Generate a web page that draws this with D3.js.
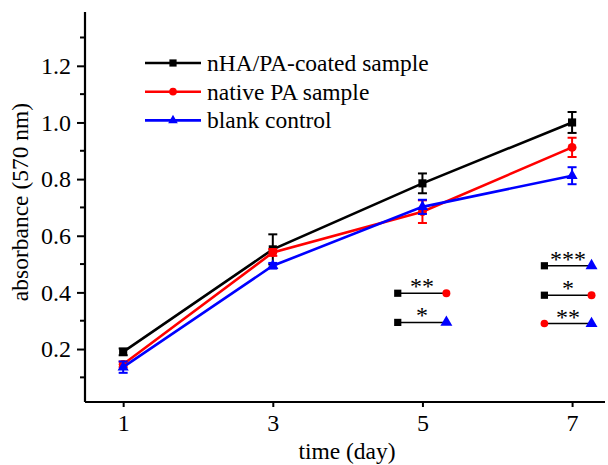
<!DOCTYPE html>
<html>
<head>
<meta charset="utf-8">
<script src="https://cdn.jsdelivr.net/npm/d3@7"></script>
<style>
  body { margin: 0; background: #fff; }
</style>
</head>
<body>
<div id="chart"></div>
<script>
// DATA
const days = [1, 3, 5, 7];
const coated = [0.19, 0.552, 0.785, 1.0];
const coatedErr = [0.012, 0.053, 0.035, 0.037];
const native = [0.146, 0.541, 0.685, 0.912];
const nativeErr = [0.01, 0.012, 0.04, 0.034];
const blank = [0.136, 0.494, 0.702, 0.812];
const blankErr = [0.02, 0.01, 0.025, 0.03];
const seriesNames = ["nHA/PA-coated sample", "native PA sample", "blank control"];
const xTicks = [1, 3, 5, 7];
const yTicks = [0.2, 0.4, 0.6, 0.8, 1.0, 1.2];
const yMinor = [0.1, 0.3, 0.5, 0.7, 0.9, 1.1, 1.3];

// significance brackets (pairs of groups, in data units)
const sigPairs = [
  { x1: 4.67, x2: 5.32, y: 0.397, a: 0, b: 1, stars: "**" },
  { x1: 4.67, x2: 5.32, y: 0.294, a: 0, b: 2, stars: "*" },
  { x1: 6.63, x2: 7.26, y: 0.494, a: 0, b: 2, stars: "***" },
  { x1: 6.63, x2: 7.26, y: 0.39, a: 0, b: 1, stars: "*" },
  { x1: 6.63, x2: 7.26, y: 0.29, a: 1, b: 2, stars: "**" }
];

const width = 608, height = 465;
const FONT = "'Liberation Serif', 'Times New Roman', serif";
const colors = ["#000000", "#ff0000", "#0000ff"];
const shapes = [d3.symbolSquare, d3.symbolCircle, d3.symbolTriangle];
const sizes = [66, 62, 54];      // data markers
const smallSizes = [52, 46, 40]; // legend / significance markers
const sigRightSizes = [52, 50, 62];

const series = [coated, native, blank].map((vals, i) => ({
  name: seriesNames[i],
  color: colors[i],
  shape: shapes[i],
  size: sizes[i],
  points: days.map((d, j) => ({ day: d, v: vals[j], e: [coatedErr, nativeErr, blankErr][i][j] }))
}));

const svg = d3.select("#chart").append("svg")
  .attr("width", width)
  .attr("height", height);

// SCALES
const xScale = d3.scaleLinear().domain([0.49, 7.44]).range([85, 605]);
const yScale = d3.scaleLinear().domain([0.013, 1.39]).range([402, 12]);

// AXES
const xAxis = svg.append("g")
  .attr("transform", `translate(0,${yScale.range()[0]})`)
  .call(d3.axisBottom(xScale).tickValues(xTicks).tickFormat(d3.format("d")).tickSize(5).tickPadding(7));
xAxis.select(".domain").attr("stroke-width", 2.2).attr("d", `M${xScale.range()[0]},0H${xScale.range()[1]}`);
xAxis.selectAll(".tick line").attr("stroke-width", 2);
xAxis.selectAll(".tick text").style("font-size", "24px").style("font-family", FONT);

const yAxis = svg.append("g")
  .attr("transform", `translate(${xScale.range()[0]},0)`)
  .call(d3.axisLeft(yScale).tickValues(yTicks).tickFormat(d3.format(".1f")).tickSize(8).tickPadding(6));
yAxis.select(".domain").attr("stroke-width", 2.2).attr("d", `M0,${yScale.range()[0]}V${yScale.range()[1]}`);
yAxis.selectAll(".tick line").attr("stroke-width", 2);
yAxis.selectAll(".tick text").style("font-size", "24px").style("font-family", FONT);

yAxis.selectAll(".minor")
  .data(yMinor)
  .join("line")
  .attr("class", "minor")
  .attr("x1", -5).attr("x2", 0)
  .attr("y1", d => yScale(d)).attr("y2", d => yScale(d))
  .attr("stroke", "#000").attr("stroke-width", 2);

// axis titles
svg.append("text")
  .attr("x", 347).attr("y", 459)
  .attr("text-anchor", "middle")
  .style("font-family", FONT)
  .style("font-size", "23.5px")
  .text("time (day)");

svg.append("text")
  .attr("transform", `translate(28,202) rotate(-90)`)
  .attr("text-anchor", "middle")
  .style("font-family", FONT)
  .style("font-size", "23.5px")
  .text("absorbance (570 nm)");

// LINES
const line = d3.line().x(d => xScale(d.day)).y(d => yScale(d.v));

const groups = svg.selectAll(".series")
  .data(series)
  .join("g")
  .attr("class", "series");

groups.append("path")
  .attr("d", d => line(d.points))
  .attr("fill", "none")
  .attr("stroke", d => d.color)
  .attr("stroke-width", 2.6);

// error bars and markers
groups.each(function (s) {
  const g = d3.select(this);
  const eb = g.selectAll(".err").data(s.points).join("g").attr("class", "err")
    .attr("stroke", s.color).attr("stroke-width", 2);
  eb.append("line")
    .attr("x1", d => xScale(d.day)).attr("x2", d => xScale(d.day))
    .attr("y1", d => yScale(d.v - d.e)).attr("y2", d => yScale(d.v + d.e));
  eb.append("line")
    .attr("x1", d => xScale(d.day) - 4.5).attr("x2", d => xScale(d.day) + 4.5)
    .attr("y1", d => yScale(d.v + d.e)).attr("y2", d => yScale(d.v + d.e));
  eb.append("line")
    .attr("x1", d => xScale(d.day) - 4.5).attr("x2", d => xScale(d.day) + 4.5)
    .attr("y1", d => yScale(d.v - d.e)).attr("y2", d => yScale(d.v - d.e));

  g.selectAll(".pt").data(s.points).join("path").attr("class", "pt")
    .attr("transform", d => `translate(${xScale(d.day)},${yScale(d.v)})`)
    .attr("d", d3.symbol().type(s.shape).size(s.size))
    .attr("fill", s.color);
});

// LEGEND
const legend = svg.append("g").attr("transform", "translate(145,63)");
const item = legend.selectAll(".item")
  .data(series)
  .join("g")
  .attr("class", "item")
  .attr("transform", (d, i) => `translate(0,${i * 28.7})`);
item.append("line")
  .attr("x1", 0).attr("x2", 56)
  .attr("stroke", d => d.color).attr("stroke-width", 2.6);
item.append("path")
  .attr("transform", "translate(28,0)")
  .attr("d", (d, i) => d3.symbol().type(d.shape).size(smallSizes[i])())
  .attr("fill", d => d.color);
item.append("text")
  .attr("x", 62).attr("y", 8)
  .style("font-family", FONT)
  .style("font-size", "23.5px")
  .text(d => d.name);

// SIGNIFICANCE MARKERS
const sig = svg.selectAll(".sig")
  .data(sigPairs)
  .join("g")
  .attr("class", "sig");
sig.append("line")
  .attr("x1", d => xScale(d.x1)).attr("x2", d => xScale(d.x2))
  .attr("y1", d => yScale(d.y)).attr("y2", d => yScale(d.y))
  .attr("stroke", "#000").attr("stroke-width", 1.5);
sig.append("path")
  .attr("transform", d => `translate(${xScale(d.x1)},${yScale(d.y)})`)
  .attr("d", d => d3.symbol().type(shapes[d.a]).size(smallSizes[d.a])())
  .attr("fill", d => colors[d.a]);
sig.append("path")
  .attr("transform", d => `translate(${xScale(d.x2)},${yScale(d.y)})`)
  .attr("d", d => d3.symbol().type(shapes[d.b]).size(sigRightSizes[d.b])())
  .attr("fill", d => colors[d.b]);
sig.append("text")
  .attr("x", d => (xScale(d.x1) + xScale(d.x2)) / 2)
  .attr("y", d => yScale(d.y) + 1)
  .attr("text-anchor", "middle")
  .style("font-family", FONT)
  .style("font-size", "24px")
  .text(d => d.stars);
</script>
</body>
</html>
